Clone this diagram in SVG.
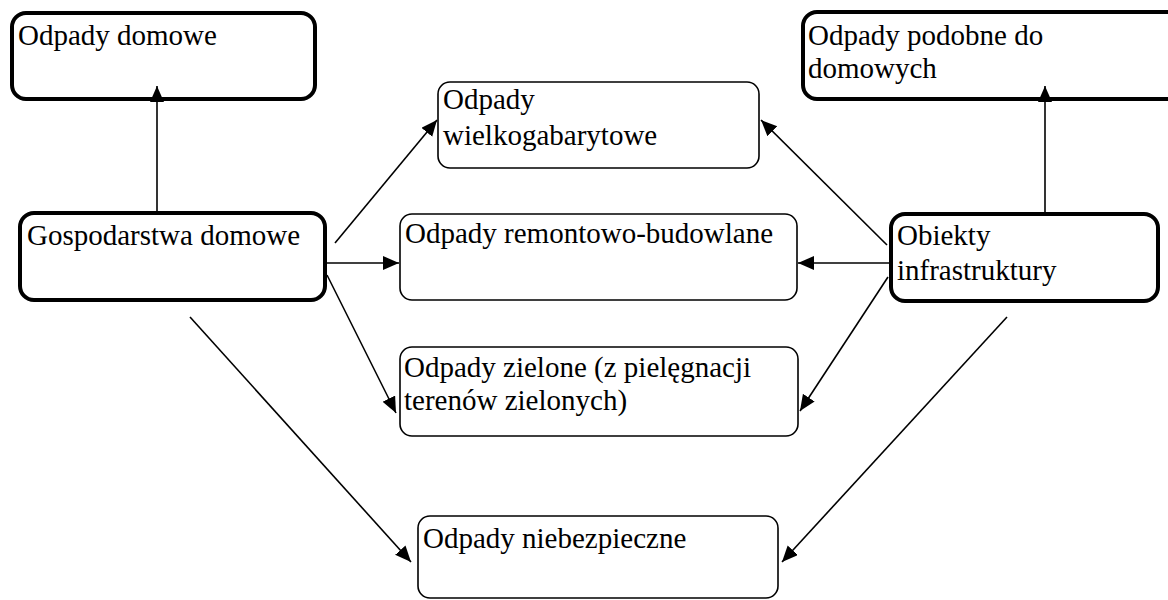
<svg xmlns="http://www.w3.org/2000/svg" width="1168" height="600" viewBox="0 0 1168 600">
  <style>
    .thick { fill: #fff; stroke: #000; stroke-width: 4; }
    .thin { fill: #fff; stroke: #000; stroke-width: 1.6; }
    .lbl { font-family: 'Liberation Serif', 'DejaVu Serif', serif; font-size: 29px; fill: #000; }
    .conn { stroke: #000; stroke-width: 1.6; fill: none; marker-end: url(#arrow); }
  </style>
  <defs>
    <marker id="arrow" markerUnits="userSpaceOnUse" markerWidth="17" markerHeight="15" refX="16" refY="7" orient="auto">
      <path d="M0,0 L16,7 L0,14 z" fill="#000"/>
    </marker>
  </defs>
  <rect width="1168" height="600" fill="#fff"/>

  <g id="odpady-domowe">
    <rect class="thick" x="12" y="13" width="303" height="86" rx="14"/>
    <text class="lbl" x="18" y="45">Odpady domowe</text>
  </g>

  <g id="odpady-podobne">
    <rect class="thick" x="803" y="12" width="380" height="87" rx="14"/>
    <text class="lbl" x="808" y="45">Odpady podobne do</text>
    <text class="lbl" x="808" y="78">domowych</text>
  </g>

  <g id="gospodarstwa">
    <rect class="thick" x="20" y="213" width="305" height="87" rx="14"/>
    <text class="lbl" x="27" y="245">Gospodarstwa domowe</text>
  </g>

  <g id="obiekty">
    <rect class="thick" x="891" y="214" width="267" height="87" rx="14"/>
    <text class="lbl" x="897" y="245">Obiekty</text>
    <text class="lbl" x="897" y="280">infrastruktury</text>
  </g>

  <g id="wielkogabarytowe">
    <rect class="thin" x="438" y="82" width="321" height="86" rx="12"/>
    <text class="lbl" x="443" y="109">Odpady</text>
    <text class="lbl" x="443" y="145">wielkogabarytowe</text>
  </g>

  <g id="remontowo">
    <rect class="thin" x="400" y="214" width="397" height="86" rx="12"/>
    <text class="lbl" x="405" y="243">Odpady remontowo-budowlane</text>
  </g>

  <g id="zielone">
    <rect class="thin" x="400" y="347" width="398" height="89" rx="12"/>
    <text class="lbl" x="404" y="377">Odpady zielone (z pielęgnacji</text>
    <text class="lbl" x="404" y="410">terenów zielonych)</text>
  </g>

  <g id="niebezpieczne">
    <rect class="thin" x="418" y="516" width="360" height="82" rx="12"/>
    <text class="lbl" x="423" y="548">Odpady niebezpieczne</text>
  </g>

  <!-- connectors drawn last so arrowheads sit on top of box borders -->
  <g id="connectors">
    <line class="conn" x1="157" y1="213" x2="157" y2="86"/>
    <line class="conn" x1="1045" y1="214" x2="1045" y2="86"/>
    <line class="conn" x1="335" y1="243" x2="437" y2="120"/>
    <line class="conn" x1="325" y1="263" x2="399" y2="263"/>
    <line class="conn" x1="327" y1="275" x2="396" y2="413"/>
    <line class="conn" x1="190" y1="317" x2="411" y2="562"/>
    <line class="conn" x1="887" y1="245" x2="761" y2="120"/>
    <line class="conn" x1="890" y1="263" x2="798" y2="263"/>
    <line class="conn" x1="888" y1="277" x2="800" y2="411"/>
    <line class="conn" x1="1007" y1="317" x2="782" y2="562"/>
  </g>
</svg>
